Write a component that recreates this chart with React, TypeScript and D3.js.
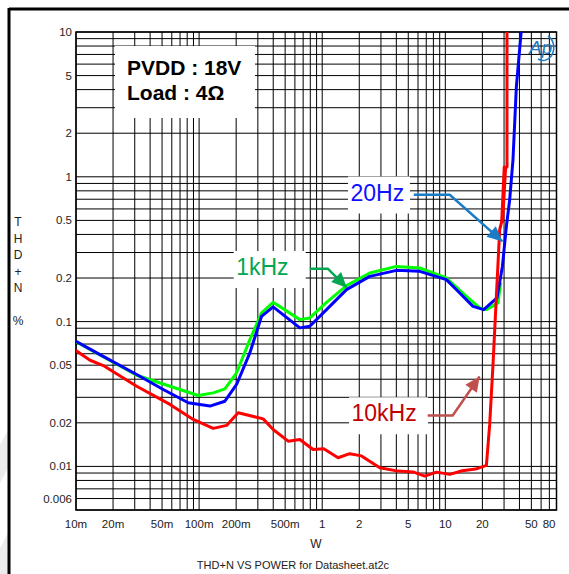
import * as d3 from "d3";

// THD+N (%) vs output power (W)
const series20Hz: [number, number][] = [
  [0.01, 0.0731], [0.01566, 0.0592], [0.0311, 0.0431], [0.0511, 0.034], [0.0816, 0.0275],
  [0.1224, 0.0261], [0.162, 0.0282], [0.2016, 0.0368], [0.2584, 0.0608], [0.3216, 0.1088],
  [0.3995, 0.1263], [0.658, 0.0905], [0.793, 0.0928], [1.084, 0.121], [1.575, 0.1663],
  [2.434, 0.2053], [4.01, 0.2259], [6.197, 0.2223], [10.2, 0.1949], [13.09, 0.1577],
  [16.78, 0.1274], [20.5, 0.121], [26.28, 0.1457], [29.08, 0.2406], [31.33, 0.4542],
  [33.32, 0.694], [35.44, 1.31], [37.77, 4.2], [41.5, 10.5],
];

const series1kHz: [number, number][] = [
  [0.01, 0.0725], [0.01566, 0.0588], [0.0311, 0.0426], [0.058, 0.0358], [0.0983, 0.0309],
  [0.1301, 0.0322], [0.162, 0.0343], [0.2016, 0.0443], [0.2584, 0.0751], [0.3216, 0.1148],
  [0.3995, 0.1358], [0.658, 0.1032], [0.793, 0.106], [1.084, 0.1358], [1.575, 0.1771],
  [2.434, 0.2167], [4.01, 0.2406], [6.197, 0.2345], [10.2, 0.2001], [14.84, 0.1494],
  [19.02, 0.1243], [21.56, 0.121], [26.78, 0.1346], [28.17, 0.186],
];

const series10kHz: [number, number][] = [
  [0.01, 0.0631], [0.013, 0.0541], [0.01666, 0.0497], [0.0311, 0.0358], [0.058, 0.0268],
  [0.0896, 0.0211], [0.1301, 0.0183], [0.1672, 0.0192], [0.2077, 0.0235], [0.3314, 0.0213],
  [0.3995, 0.018], [0.5288, 0.01494], [0.658, 0.01535], [0.8435, 0.0131], [1.03, 0.01325],
  [1.346, 0.01148], [1.675, 0.01224], [2.084, 0.01182], [2.935, 0.0098], [4.108, 0.00928],
  [5.467, 0.00916], [6.804, 0.00857], [8.469, 0.00913], [10.86, 0.00881], [13.72, 0.00934],
  [17.65, 0.00958], [21.56, 0.01016], [22.93, 0.0195], [24.39, 0.0505], [25.98, 0.1494],
  [27.65, 0.431], [28.7, 0.49], [30.1, 1.17], [29.2, 0.49], [30.9, 1.17], [31.7, 1.17],
  [31.7, 10.5],
];

const xTicks = [0.01, 0.02, 0.05, 0.1, 0.2, 0.5, 1, 2, 5, 10, 20, 50, 80];
const xTickLabels = ["10m", "20m", "50m", "100m", "200m", "500m", "1", "2", "5", "10", "20", "50", "80"];
const yTicks = [10, 5, 2, 1, 0.5, 0.2, 0.1, 0.05, 0.02, 0.01, 0.006];
const yTickLabels = ["10", "5", "2", "1", "0.5", "0.2", "0.1", "0.05", "0.02", "0.01", "0.006"];
const yAxisLetters = ["T", "H", "D", "+", "N", "", "%"];

const annotations = [
  { label: "1kHz", color: "#00a650", arrow: "#00a650", at: [0.2, 0.21], boxW: 72,
    path: [[0.793, 0.232], [1.11, 0.232], [1.584, 0.1716]] },
  { label: "20Hz", color: "#1010ff", arrow: "#1a7cc4", at: [1.697, 0.686], boxW: 62,
    path: [[5.54, 0.751], [10.86, 0.751], [29.08, 0.358]] },
  { label: "10kHz", color: "#c00000", arrow: "#c0504d", at: [1.73, 0.0205], boxW: 79,
    path: [[7.19, 0.0225], [11.48, 0.0225], [19.0, 0.0418]] },
];

const W = 569;
const H = 574;
const margin = { top: 32, right: 12, bottom: 64, left: 76 };
const font = "'Liberation Sans', Arial, sans-serif";

function gridValues(lo: number, hi: number) {
  const out: number[] = [];
  for (let e = -3; e <= 2; e++) {
    for (let k = 1; k <= 9; k++) {
      const v = k * Math.pow(10, e);
      if (v >= lo * 0.999 && v <= hi * 1.001) out.push(v);
    }
  }
  return out;
}

export default function App() {
  const x = d3.scaleLog().domain([0.01, 80]).range([margin.left, W - margin.right - 0.5]);
  const y = d3.scaleLog().domain([0.005, 10]).range([H - margin.bottom, margin.top]);
  const line = d3.line<[number, number]>().x((d) => x(d[0])).y((d) => y(d[1]));
  const [x0, x1] = x.range();
  const [y1, y0] = y.range();

  const arrowHead = (p: number[][], len = 15, half = 7) => {
    const a = p[p.length - 2];
    const b = p[p.length - 1];
    const ax = x(a[0]), ay = y(a[1]), bx = x(b[0]), by = y(b[1]);
    const dx = bx - ax, dy = by - ay;
    const L = Math.hypot(dx, dy);
    const ux = dx / L, uy = dy / L;
    const cx = bx - ux * len, cy = by - uy * len;
    return `${bx},${by} ${cx - uy * half},${cy + ux * half} ${cx + uy * half},${cy - ux * half}`;
  };

  return (
    <svg width={W} height={H} style={{ position: "absolute", left: 0, top: 0, background: "#fff" }}
      fontFamily={font}>
      <defs>
        <clipPath id="plot">
          <rect x={x0} y={y0} width={x1 - x0} height={y1 - y0} />
        </clipPath>
      </defs>

      {/* faint watermark stripes */}
      <polygon points="0,445 8,430 8,468 0,483" fill="#ececec" />
      <polygon points="0,548 8,533 8,574 0,574" fill="#ececec" />

      {/* outer frame */}
      <line x1={9} y1={9} x2={W} y2={9} stroke="#000" strokeWidth={3} />
      <line x1={9} y1={8} x2={9} y2={H} stroke="#000" strokeWidth={3} />

      {/* grid */}
      {gridValues(0.01, 80).map((v) => (
        <line key={"gx" + v} x1={x(v)} x2={x(v)} y1={y0} y2={y1} stroke="#000" strokeWidth={1} />
      ))}
      {gridValues(0.005, 10).map((v) => (
        <line key={"gy" + v} x1={x0} x2={x1} y1={y(v)} y2={y(v)} stroke="#000" strokeWidth={1} />
      ))}
      <rect x={x0} y={y0} width={x1 - x0} height={y1 - y0} fill="none" stroke="#000" strokeWidth={1.5} />

      {/* condition box */}
      <rect x={115} y={46} width={140} height={72} fill="#fff" />
      <text x={127} y={75} fontSize={21} fontWeight="bold" fill="#000">PVDD : 18V</text>
      <text x={127} y={100} fontSize={21} fontWeight="bold" fill="#000">Load : 4Ω</text>

      {/* AP logo */}
      <g fill="none" stroke="#1f7ac4">
        <text x={529} y={54} fontSize={19} fontStyle="italic" fill="#1f7ac4" stroke="none">Ap</text>
        <path d="M 548 36 A 10 12 0 0 1 538 59" strokeWidth={1.5} />
      </g>

      {/* curves */}
      <g clipPath="url(#plot)" fill="none" strokeWidth={3} strokeLinejoin="round">
        <path d={line(series1kHz) ?? ""} stroke="#00ff00" />
        <path d={line(series20Hz) ?? ""} stroke="#0000ff" />
        <path d={line(series10kHz) ?? ""} stroke="#ff0000" />
      </g>

      {/* annotations */}
      {annotations.map((a) => {
        const tx = x(a.at[0]);
        const ty = y(a.at[1]);
        const pts = a.path.map((p) => `${x(p[0])},${y(p[1])}`).join(" ");
        return (
          <g key={a.label}>
            <rect x={tx - 2.5} y={ty - 24} width={a.boxW} height={37} fill="#fff" />
            <text x={tx} y={ty} fontSize={23} fill={a.color}>{a.label}</text>
            <polyline points={pts} fill="none" stroke={a.arrow} strokeWidth={2.5} />
            <polygon points={arrowHead(a.path)} fill={a.arrow} />
          </g>
        );
      })}

      {/* y tick labels */}
      {yTicks.map((v, i) => (
        <text key={"yt" + v} x={72} y={y(v)} dy="0.35em" textAnchor="end" fontSize={11.5} fill="#222">
          {yTickLabels[i]}
        </text>
      ))}

      {/* x tick labels */}
      {xTicks.map((v, i) => {
        const last = i === xTicks.length - 1;
        return (
          <text key={"xt" + v} x={last ? x(v) - 1 : x(v)} y={528} textAnchor={last ? "end" : "middle"}
            fontSize={11.5} fill="#222">
            {xTickLabels[i]}
          </text>
        );
      })}

      <text x={316} y={548} textAnchor="middle" fontSize={12} fill="#222">W</text>
      {yAxisLetters.map((c, i) => (
        <text key={"yl" + i} x={18} y={226 + i * 16.5} textAnchor="middle" fontSize={12} fill="#222">{c}</text>
      ))}
      <text x={293} y={569} textAnchor="middle" fontSize={11} fill="#222">THD+N VS POWER for Datasheet.at2c</text>
    </svg>
  );
}
